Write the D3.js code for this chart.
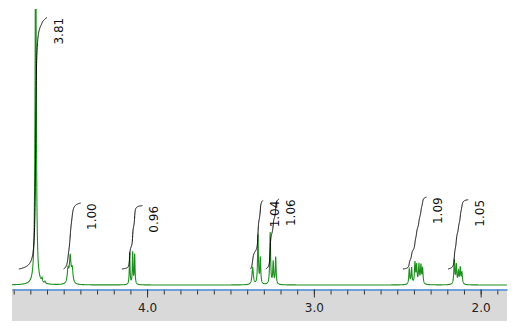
<!DOCTYPE html>
<html>
<head>
<meta charset="utf-8">
<script src="https://cdn.jsdelivr.net/npm/d3@7"></script>
<style>
  body { margin: 0; background: #fff; }
  svg { display: block; font-family: "DejaVu Sans", sans-serif; }
</style>
</head>
<body>
<svg id="chart" width="518" height="332"></svg>
<script>
// peaks: shift (ppm), height (px above baseline), half width (ppm)
const peakShifts  = [4.668, 4.630, 4.612,
                     4.474, 4.461, 4.449,
                     4.1044, 4.0864, 4.0744,
                     3.367, 3.335, 3.321,
                     3.262, 3.244, 3.229,
                     2.428, 2.414, 2.394, 2.384, 2.370, 2.358, 2.348,
                     2.158, 2.146, 2.133, 2.122, 2.112];
const peakHeights = [400, 4, 2,
                     14, 26, 14,
                     32, 32, 30,
                     17, 49, 26,
                     52, 22, 27,
                     15, 16, 21, 18, 19, 18, 15,
                     24, 19, 12, 16, 11];
const peakWidths  = [0.0038, 0.003, 0.003,
                     0.0055, 0.0055, 0.0055,
                     0.0025, 0.0025, 0.0025,
                     0.005, 0.003, 0.003,
                     0.003, 0.003, 0.003,
                     0.0033, 0.0033, 0.0033, 0.0033, 0.0033, 0.0033, 0.0033,
                     0.0033, 0.0033, 0.0033, 0.0033, 0.0033];

// integral regions (ppm) and their values
const integralFrom   = [4.769, 4.500, 4.151, 3.380, 3.288, 2.466, 2.196];
const integralTo     = [4.600, 4.398, 4.028, 3.304, 3.208, 2.324, 2.074];
const integralValues = [3.81, 1.00, 0.96, 1.04, 1.06, 1.09, 1.05];

const majorTicks = [4.0, 3.0, 2.0];
const minorTicks = d3.range(48, 18, -1).map(d => d / 10);

const svg = d3.select("#chart");

const x = d3.scaleLinear().domain([4.81, 1.842]).range([12, 507]);
const y = d3.scaleLinear().domain([0, 276]).range([285, 9]);
const yInt = d3.scaleLinear().domain([0, 1]).range([269, 203]);

function intensity(ppm) {
  let s = 0;
  for (let i = 0; i < peakShifts.length; i++) {
    const d = (ppm - peakShifts[i]) / peakWidths[i];
    s += peakHeights[i] / (1 + d * d);
  }
  return s;
}

const step = 0.0005;
const spectrum = d3.range(4.81, 1.842, -step).map(p => [p, intensity(p)]);

// gray axis band
svg.append("rect")
  .attr("x", 12).attr("y", 289)
  .attr("width", 495).attr("height", 32)
  .attr("fill", "#d9d9d9");

svg.append("clipPath").attr("id", "plot")
  .append("rect").attr("x", 12).attr("y", 9).attr("width", 495).attr("height", 280);

svg.append("path")
  .datum(spectrum)
  .attr("clip-path", "url(#plot)")
  .attr("fill", "none")
  .attr("stroke", "#1e8f1e")
  .attr("stroke-width", 1.1)
  .attr("d", d3.line().x(d => x(d[0])).y(d => y(d[1])));

// integrals
integralValues.forEach(function(v, k) {
  const pts = spectrum.filter(d => d[0] <= integralFrom[k] && d[0] >= integralTo[k]);
  let acc = 0;
  const cum = pts.map(d => { acc += d[1]; return [d[0], acc]; });
  const total = acc;
  const curve = cum.map(d => [d[0], d[1] / total * v]);

  svg.append("path")
    .datum(curve)
    .attr("fill", "none")
    .attr("stroke", "#000")
    .attr("stroke-width", 1)
    .attr("d", d3.line().x(d => x(d[0])).y(d => yInt(d[1])));

  const topY = yInt(v);
  svg.append("text")
    .attr("transform", "translate(" + (x(integralTo[k]) + 15.5) + "," + (topY + 27) + ") rotate(-90)")
    .attr("font-size", "12px")
    .attr("fill", "#111")
    .text(v.toFixed(2));
});

// axis
const minorAxis = d3.axisBottom(x).tickValues(minorTicks).tickSize(5).tickSizeOuter(0).tickFormat("");
const majorAxis = d3.axisBottom(x).tickValues(majorTicks).tickSize(8).tickSizeOuter(0)
  .tickPadding(6).tickFormat(d3.format(".1f"));

const gMinor = svg.append("g").attr("transform", "translate(0,289.5)").call(minorAxis);
const gMajor = svg.append("g").attr("transform", "translate(0,289.5)").call(majorAxis);

svg.selectAll(".domain").attr("stroke", "#4f8ddb").attr("stroke-width", 1.2);
svg.selectAll(".tick line").attr("stroke", "#333");
gMajor.selectAll("text").attr("font-size", "12px").attr("font-family", "DejaVu Sans").attr("fill", "#222");
</script>
</body>
</html>
